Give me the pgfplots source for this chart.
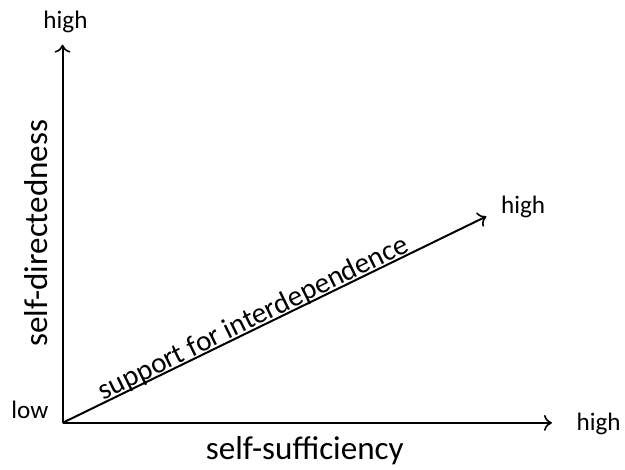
\documentclass[border=0pt]{standalone}
\usepackage{pgfplots}
\pgfplotsset{compat=1.18}
\usepackage{fontspec}
\setmainfont{Carlito}
\usetikzlibrary{arrows.meta}
\begin{document}
\begin{tikzpicture}
\begin{axis}[
  scale only axis, width=468.75pt, height=351.75pt,
  xmin=0, xmax=625, ymin=0, ymax=469,
  hide axis, clip=false,
]
\path[draw=none] (axis cs:0,0) rectangle (axis cs:625,469);
\addplot[black, line width=1.5pt, -{To[length=6pt,width=12pt,line width=1.2pt]}] coordinates {(63,43) (63,424)};
\addplot[black, line width=1.5pt, -{To[length=6pt,width=12pt,line width=1.2pt]}] coordinates {(63,43) (556,43)};
\addplot[black, line width=1.5pt, -{To[length=6pt,width=12pt,line width=1.2pt]}] coordinates {(63,43) (490,251)};
\node[font=\fontsize{19}{22}\selectfont] at (axis cs:66,447) {high};
\node[font=\fontsize{19}{22}\selectfont] at (axis cs:30,56) {low};
\node[font=\fontsize{19}{22}\selectfont] at (axis cs:603,42) {high};
\node[font=\fontsize{19}{22}\selectfont] at (axis cs:527,261) {high};
\node[font=\fontsize{25}{28}\selectfont] at (axis cs:307,15) {self-sufficiency};
\node[font=\fontsize{25}{28}\selectfont, rotate=90] at (axis cs:36,234) {self-directedness};
\node[font=\fontsize{22}{26}\selectfont, rotate=26, anchor=base, inner sep=0pt] at (axis cs:259,141) {support for interdependence};
\end{axis}
\end{tikzpicture}
\end{document}
